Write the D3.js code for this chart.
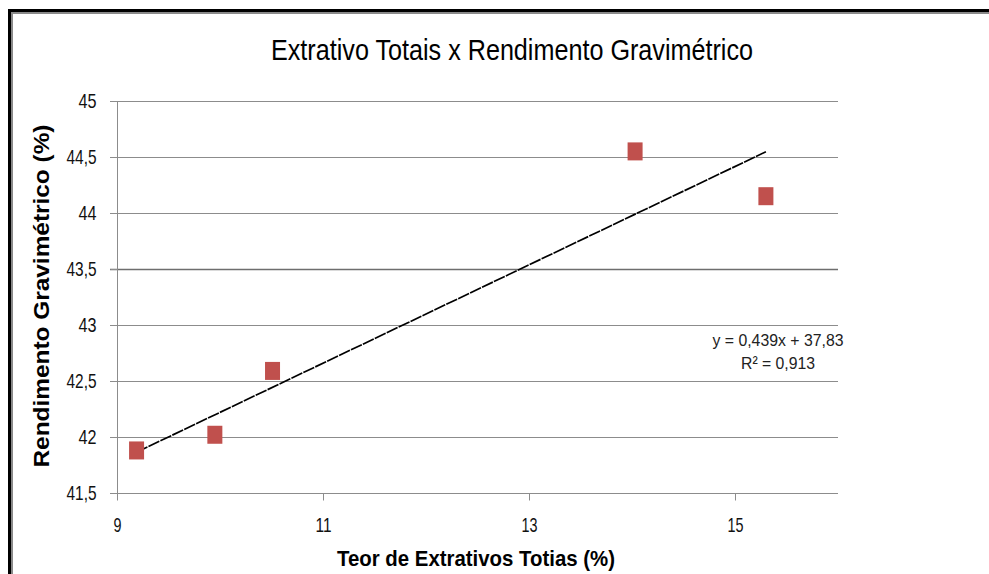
<!DOCTYPE html>
<html><head><meta charset="utf-8">
<script src="https://cdn.jsdelivr.net/npm/d3@7/dist/d3.min.js"></script>
<style>body{margin:0;background:#fff}svg{display:block}text{font-family:"Liberation Sans",Arial,sans-serif}</style>
</head><body>
<svg id="c" width="989" height="574"></svg>
<script>
const teor = [9.19, 9.95, 10.51, 14.03, 15.30];
const rendimento = [41.88, 42.02, 42.59, 44.55, 44.15];
const yTicks = [41.5, 42, 42.5, 43, 43.5, 44, 44.5, 45];
const xTicks = [9, 11, 13, 15];
const slope = 0.439, intercept = 37.83;
const eqLabel = "y = 0,439x + 37,83";
const r2Label = "R² = 0,913";

const svg = d3.select("#c");
const x = d3.scaleLinear().domain([9, 16]).range([117, 838]);
const y = d3.scaleLinear().domain([41.5, 45]).range([493, 101]);
const fmt = d => String(d).replace(".", ",");

// frame
svg.append("rect").attr("x", 0).attr("y", 0).attr("width", 989).attr("height", 574).attr("fill", "#fff");
svg.append("line").attr("x1", 8).attr("x2", 989).attr("y1", 10.5).attr("y2", 10.5).attr("stroke", "#000").attr("stroke-width", 3);
svg.append("line").attr("x1", 11).attr("x2", 989).attr("y1", 13).attr("y2", 13).attr("stroke", "#8a8a8a").attr("stroke-width", 2);
svg.append("line").attr("x1", 9.5).attr("x2", 9.5).attr("y1", 9).attr("y2", 574).attr("stroke", "#000").attr("stroke-width", 3);
svg.append("line").attr("x1", 12).attr("x2", 12).attr("y1", 12).attr("y2", 574).attr("stroke", "#8a8a8a").attr("stroke-width", 2);

// gridlines
svg.append("g").selectAll("line").data(yTicks).join("line")
  .attr("x1", 110).attr("x2", 838)
  .attr("y1", d => Math.round(y(d)) + 0.5).attr("y2", d => Math.round(y(d)) + 0.5)
  .attr("stroke", d => d === 43.5 ? "#6e6e6e" : "#8c8c8c").attr("stroke-width", d => d === 43.5 ? 1.6 : 1);

// axes
const ya = svg.append("g").attr("transform", "translate(117.5,0)")
  .call(d3.axisLeft(y).tickValues(yTicks).tickFormat(fmt).tickSize(7).tickPadding(14));
const xa = svg.append("g").attr("transform", "translate(0,493.5)")
  .call(d3.axisBottom(x).tickValues(xTicks).tickFormat(fmt).tickSize(7).tickPadding(17));
[ya, xa].forEach(a => {
  a.attr("font-size", null).attr("font-family", null);
  a.select(".domain").attr("stroke", "#8c8c8c");
  a.selectAll(".tick line").attr("stroke", "#8c8c8c");
  a.selectAll("text").style("font-size", "21px").attr("fill", "#111");
});
xa.select(".domain").attr("d", "M117,0H838");
ya.select(".domain").attr("d", "M0,101V493");
ya.selectAll(".tick text").each(function(){ const t=d3.select(this); const n=t.text().length; t.attr("textLength", n>2?30:18).attr("lengthAdjust","spacingAndGlyphs"); });
xa.selectAll(".tick text").each(function(){ const t=d3.select(this); const n=t.text().length; t.attr("textLength", n>1?16:8).attr("lengthAdjust","spacingAndGlyphs"); });

// trendline
const x0 = d3.min(teor), x1 = d3.max(teor);
svg.append("line")
  .attr("x1", x(x0)).attr("y1", y(slope * x0 + intercept))
  .attr("x2", x(x1)).attr("y2", y(slope * x1 + intercept))
  .attr("stroke", "#000").attr("stroke-width", 1.7).attr("stroke-dasharray", "12,1.2");

// markers
svg.append("g").selectAll("rect").data(teor.map((t, i) => [t, rendimento[i]])).join("rect")
  .attr("x", d => x(d[0]) - 7.5).attr("y", d => y(d[1]) - 9)
  .attr("width", 15).attr("height", 18).attr("fill", "#C0504D");

// title
svg.append("text").attr("x", 512).attr("y", 60).attr("text-anchor", "middle")
  .style("font-size", "30px").attr("textLength", 482).attr("lengthAdjust", "spacingAndGlyphs")
  .attr("fill", "#000").text("Extrativo Totais x Rendimento Gravimétrico");

// axis titles
svg.append("text").attr("x", 476).attr("y", 566).attr("text-anchor", "middle")
  .style("font-size", "22px").attr("font-weight", "bold").attr("textLength", 278).attr("lengthAdjust", "spacingAndGlyphs")
  .text("Teor de Extrativos Totias (%)");
svg.append("text").attr("transform", "translate(49,296) rotate(-90)").attr("text-anchor", "middle")
  .style("font-size", "22px").attr("font-weight", "bold").attr("textLength", 343).attr("lengthAdjust", "spacingAndGlyphs")
  .text("Rendimento Gravimétrico (%)");

// equation
svg.append("text").attr("x", 778).attr("y", 346).attr("text-anchor", "middle")
  .style("font-size", "17px").attr("fill", "#222").attr("textLength", 131).attr("lengthAdjust", "spacingAndGlyphs").text(eqLabel);
svg.append("text").attr("x", 778).attr("y", 369).attr("text-anchor", "middle")
  .style("font-size", "17px").attr("fill", "#222").attr("textLength", 74).attr("lengthAdjust", "spacingAndGlyphs").text(r2Label);
</script>
</body></html>
